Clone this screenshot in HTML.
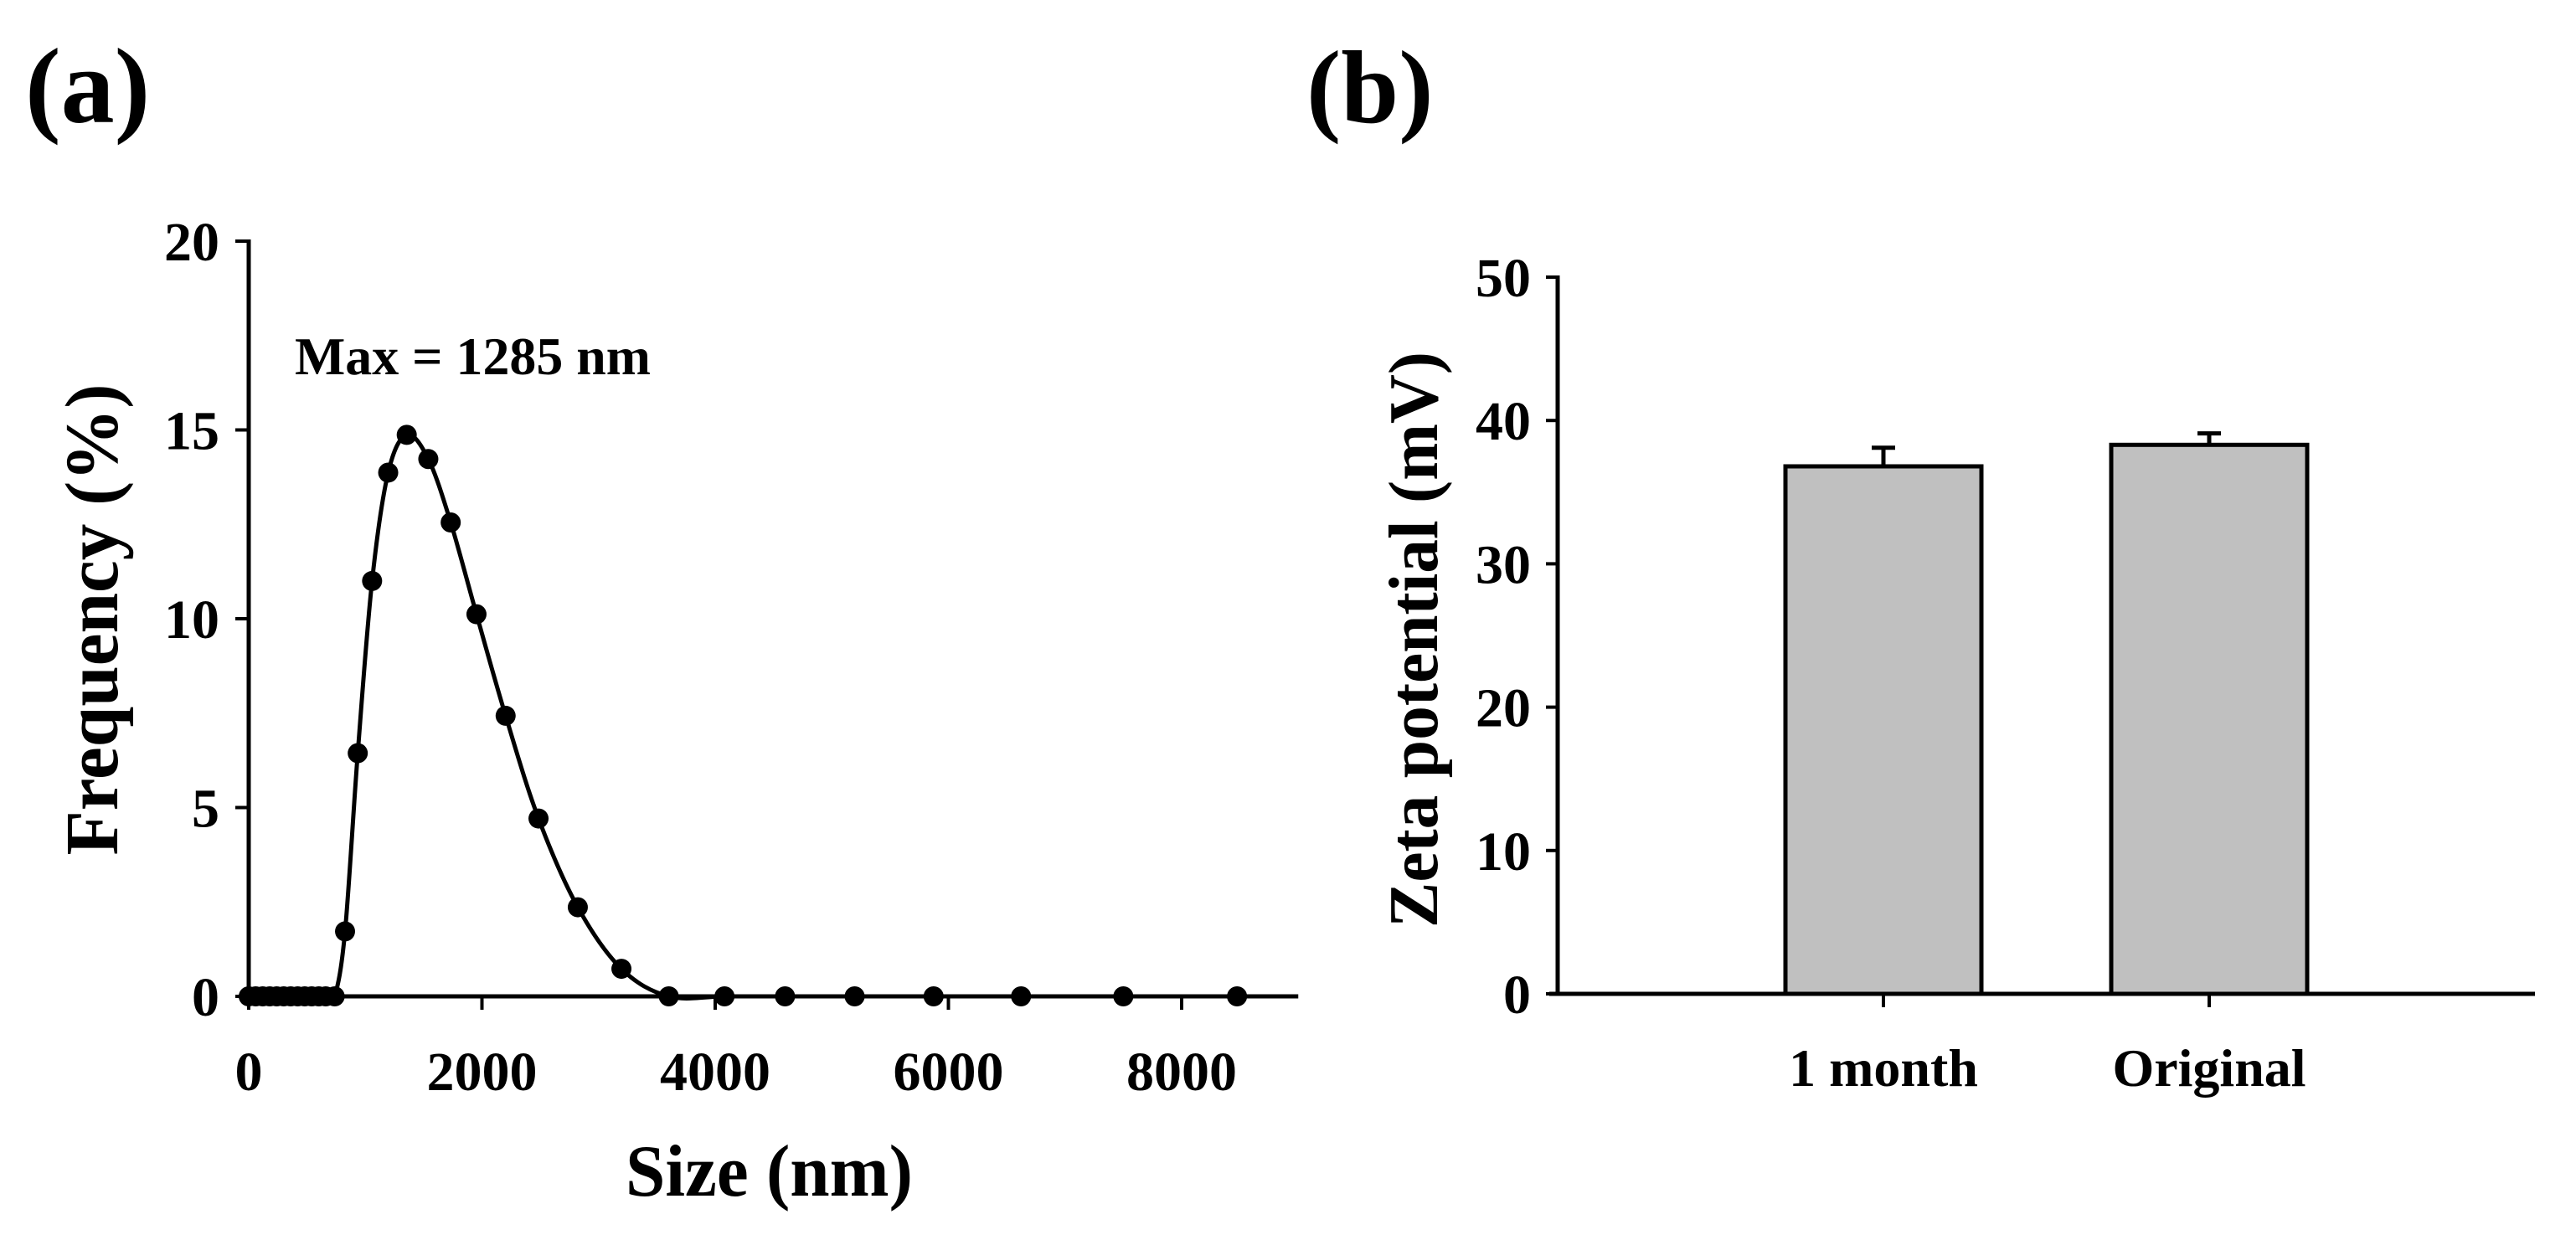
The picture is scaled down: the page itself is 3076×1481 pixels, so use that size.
<!DOCTYPE html>
<html><head><meta charset="utf-8"><style>
html,body{margin:0;padding:0;background:#fff}
svg{display:block}
text{font-family:"Liberation Serif",serif;font-weight:bold;fill:#000}
</style></head><body>
<svg id="fig" width="3076" height="1481" viewBox="0 0 3076 1481" xmlns="http://www.w3.org/2000/svg">
<text x="30" y="146" font-size="128">(a)</text>
<text x="1560" y="146" font-size="124">(b)</text>
<g id="chartA"></g>
<g id="chartB"></g>
</svg>
<script>
// ---- Chart A data ----
const sizeNm = [0,60,120,180,240,300,360,420,480,540,600,660,737,826,935,1058,1196,1355,1540,1732,1953,2203,2485,2822,3196,3602,4080,4599,5196,5873,6623,7500,8475];
const freqPct = [0,0,0,0,0,0,0,0,0,0,0,0,0,1.72,6.44,11.0,13.87,14.87,14.23,12.55,10.12,7.43,4.71,2.36,0.73,0,0,0,0,0,0,0,0];
const xTicksA = [0,2000,4000,6000,8000];
const yTicksA = [0,5,10,15,20];
// ---- Chart B data ----
const categories = ["1 month","Original"];
const zetaMeans = [36.8,38.3];
const zetaErr = [1.3,0.8];
const yTicksB = [0,10,20,30,40,50];

const NS="http://www.w3.org/2000/svg";
function mk(parent,tag,attrs){const e=document.createElementNS(NS,tag);for(const k in attrs)e.setAttribute(k,attrs[k]);parent.appendChild(e);return e;}

// Chart A
(function(){
  const g=document.getElementById('chartA');
  const X0=297,XPX=278.5/2000,Y0=1190,YPX=902/20;
  const sx=v=>X0+v*XPX, sy=v=>Y0-v*YPX;
  const xEnd=sx(9000);
  let a=mk(g,'line',{x1:X0,y1:Y0,x2:xEnd,y2:Y0,stroke:'#000','stroke-width':5});
  
  
  a=mk(g,'line',{x1:X0,y1:sy(20)-2,x2:X0,y2:Y0+2,stroke:'#000','stroke-width':5});
  
  
  xTicksA.forEach(v=>{
    const t=mk(g,'line',{x1:sx(v),y1:Y0,x2:sx(v),y2:Y0+16,stroke:'#000','stroke-width':4});
    
    
    const l=mk(g,'text',{x:sx(v),y:1302,'font-size':66,'text-anchor':'middle'});
    
    
    l.textContent=String(v);
  });
  yTicksA.forEach(v=>{
    const t=mk(g,'line',{x1:X0-16,y1:sy(v),x2:X0,y2:sy(v),stroke:'#000','stroke-width':4});
    
    
    const l=mk(g,'text',{x:262,y:sy(v)+23,'font-size':66,'text-anchor':'end'});
    
    
    l.textContent=String(v);
  });
  const P=sizeNm.map((s,i)=>[sx(s),sy(freqPct[i])]);
  let d='M'+P[0][0]+','+P[0][1];
  for(let i=0;i<P.length-1;i++){
    const p0=P[Math.max(0,i-1)],p1=P[i],p2=P[i+1],p3=P[Math.min(P.length-1,i+2)];
    const c1=[p1[0]+(p2[0]-p0[0])/6,p1[1]+(p2[1]-p0[1])/6];
    const c2=[p2[0]-(p3[0]-p1[0])/6,p2[1]-(p3[1]-p1[1])/6];
    d+=' C'+c1+' '+c2+' '+p2;
  }
  const path=mk(g,'path',{d:d,fill:'none',stroke:'#000','stroke-width':5});
  
  
  P.forEach(p=>{
    const c=mk(g,'circle',{cx:p[0],cy:p[1],r:12,fill:'#000'});
    
    
  });
  const m=mk(g,'text',{x:352,y:447,'font-size':64,textLength:425,lengthAdjust:'spacingAndGlyphs'});
  
  
  m.textContent='Max = 1285 nm';
  const xt=mk(g,'text',{x:747,y:1428,'font-size':88,textLength:343,lengthAdjust:'spacingAndGlyphs'});
  
  
  xt.textContent='Size (nm)';
  const yt=mk(g,'text',{x:0,y:0,'font-size':90,'text-anchor':'middle',textLength:563,lengthAdjust:'spacingAndGlyphs',transform:'translate(140,740) rotate(-90)'});
  
  
  yt.textContent='Frequency (%)';
})();

// Chart B
(function(){
  const g=document.getElementById('chartB');
  const X0=1860,Y0=1187,YPX=171.2/10;
  const sy=v=>Y0-v*YPX;
  const catX=[2249,2638], barW=234;
  let a=mk(g,'line',{x1:1850,y1:Y0,x2:3027,y2:Y0,stroke:'#000','stroke-width':5});
  
  
  a=mk(g,'line',{x1:X0,y1:sy(50)-2,x2:X0,y2:Y0,stroke:'#000','stroke-width':5});
  
  
  yTicksB.forEach(v=>{
    const t=mk(g,'line',{x1:X0-14,y1:sy(v),x2:X0,y2:sy(v),stroke:'#000','stroke-width':4});
    
    
    const l=mk(g,'text',{x:1828,y:sy(v)+23,'font-size':66,'text-anchor':'end'});
    
    
    l.textContent=String(v);
  });
  categories.forEach((c,i)=>{
    const cx=catX[i];
    const top=sy(zetaMeans[i]);
    const r=mk(g,'rect',{x:cx-barW/2,y:top,width:barW,height:Y0-top,fill:'#c0c0c0',stroke:'#000','stroke-width':5});
    
    
    const eTop=sy(zetaMeans[i]+zetaErr[i]);
    const e=mk(g,'path',{d:'M'+cx+','+top+' V'+eTop+' M'+(cx-14)+','+eTop+' H'+(cx+14),stroke:'#000','stroke-width':5,fill:'none'});
    
    
    const t=mk(g,'line',{x1:cx,y1:Y0,x2:cx,y2:Y0+16,stroke:'#000','stroke-width':4});
    
    
    const l=mk(g,'text',{x:cx,y:1297,'font-size':64,'text-anchor':'middle'});
    
    
    l.textContent=c;
  });
  const yt=mk(g,'text',{x:0,y:0,'font-size':84,'text-anchor':'middle',textLength:688,lengthAdjust:'spacingAndGlyphs',transform:'translate(1716,764) rotate(-90)'});
  
  
  yt.textContent='Zeta potential (mV)';
})();
</script>
</body></html>
